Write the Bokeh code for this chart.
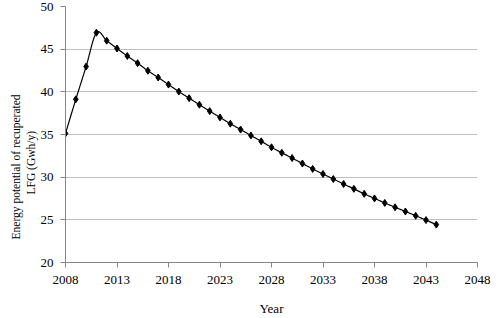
import numpy as np
from bokeh.plotting import figure
from bokeh.models import Range1d, FixedTicker, Title
from bokeh.embed import file_html
from bokeh.resources import INLINE

years = list(range(2008, 2045))
energy = [35.12, 39.12, 42.96, 46.93, 46.00, 45.08, 44.20, 43.36, 42.47, 41.68,
          40.85, 40.03, 39.26, 38.49, 37.74, 37.00, 36.27, 35.58, 34.89, 34.20,
          33.50, 32.86, 32.24, 31.60, 30.97, 30.37, 29.78, 29.20, 28.63, 28.05,
          27.51, 26.98, 26.47, 25.98, 25.48, 24.97, 24.44]
x_ticks = [2008, 2013, 2018, 2023, 2028, 2033, 2038, 2043, 2048]
y_ticks = [20, 25, 30, 35, 40, 45, 50]
x_title = "Year"
y_title_1 = "Energy potential of recuperated"
y_title_2 = "LFG (Gwh/y)"


def smooth(xs, ys, n=20):
    # Catmull-Rom (Excel style smoothed line) through the data points
    xs = np.asarray(xs, float)
    ys = np.asarray(ys, float)
    px = np.concatenate([[xs[0]], xs, [xs[-1]]])
    py = np.concatenate([[ys[0]], ys, [ys[-1]]])
    ox, oy = [], []
    t = np.linspace(0, 1, n, endpoint=False)
    for i in range(1, len(px) - 2):
        for arr, out in ((px, ox), (py, oy)):
            p0, p1, p2, p3 = arr[i - 1], arr[i], arr[i + 1], arr[i + 2]
            c1 = p1 + (p2 - p0) / 6.0
            c2 = p2 - (p3 - p1) / 6.0
            out.extend((1 - t) ** 3 * p1 + 3 * (1 - t) ** 2 * t * c1
                       + 3 * (1 - t) * t ** 2 * c2 + t ** 3 * p2)
    ox.append(xs[-1])
    oy.append(ys[-1])
    return ox, oy


FONT = "Liberation Serif"
AXIS_GREY = "#868686"

p = figure(width=500, height=318, output_backend="svg", toolbar_location=None,
           x_range=Range1d(2008, 2048), y_range=Range1d(20, 50),
           min_border_left=65, min_border_right=23, min_border_top=6,
           min_border_bottom=52)
p.outline_line_color = None
p.background_fill_color = "white"
p.border_fill_color = "white"

sx, sy = smooth(years, energy)
p.line(sx, sy, line_color="black", line_width=1.2)
p.scatter(years, energy, marker="diamond", size=7, fill_color="black",
          line_color="black")

p.xgrid.grid_line_color = None
p.ygrid.grid_line_color = "#bfbfbf"
p.ygrid.grid_line_width = 1

p.xaxis.ticker = FixedTicker(ticks=x_ticks)
p.yaxis.ticker = FixedTicker(ticks=y_ticks)
for ax in (p.xaxis[0], p.yaxis[0]):
    ax.axis_line_color = AXIS_GREY
    ax.major_tick_line_color = AXIS_GREY
    ax.minor_tick_line_color = None
    ax.major_tick_in = 0
    ax.major_tick_out = 5
    ax.major_label_text_font = FONT
    ax.major_label_text_font_size = "13px"
    ax.major_label_text_color = "black"
    ax.axis_label_text_font = FONT
    ax.axis_label_text_font_style = "normal"
    ax.axis_label_text_color = "black"
p.xaxis.major_label_standoff = 8
p.yaxis.major_label_standoff = 7
p.xaxis.axis_label = x_title
p.xaxis.axis_label_standoff = 14
p.xaxis.axis_label_text_font_size = "13px"

# y-axis title: two side-panel titles (nearest line first)
for txt, off, so in ((y_title_2, 68, 2), (y_title_1, 23, 0)):
    p.add_layout(Title(text=txt, align="left", offset=off, standoff=so,
                       text_font=FONT, text_font_size="11.5px",
                       text_font_style="normal", text_color="black"), "left")

open("out.html", "w").write(file_html(p, INLINE))
